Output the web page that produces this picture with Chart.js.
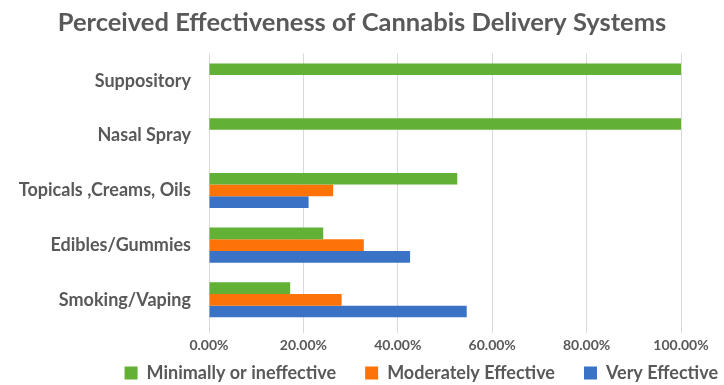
<!DOCTYPE html>
<html>
<head>
<meta charset="utf-8">
<script src="https://cdn.jsdelivr.net/npm/chart.js@4/dist/chart.umd.min.js"></script>
<style>
html,body{margin:0;padding:0;background:#fff;}
#wrap{width:724px;height:385px;position:relative;}
</style>
</head>
<body>
<div id="wrap"><canvas id="c"></canvas></div>
<script>
const categories = ['Suppository', 'Nasal Spray', 'Topicals ,Creams, Oils', 'Edibles/Gummies', 'Smoking/Vaping'];
const seriesNames = ['Minimally or ineffective', 'Moderately Effective', 'Very Effective'];
const minimallyIneffective = [100, 100, 52.6, 24.2, 17.2];
const moderatelyEffective = [0, 0, 26.3, 32.8, 28.1];
const veryEffective = [0, 0, 21.1, 42.6, 54.6];
const xTicks = [0, 20, 40, 60, 80, 100];

const FONT = 'Lato, "Open Sans", sans-serif';
const TXT = '#595959';

const legendTweak = {
  id: 'legendTweak',
  afterInit(chart) {
    const lg = chart.legend;
    if (!lg) return;
    const fit = lg.fit;
    lg.fit = function () { fit.call(this); this.height = 27; };
    const draw = lg.draw;
    lg.draw = function () {
      const t = this.top, l = this.left, r = this.right;
      this.top = t - 23; this.left = l + 23; this.right = r + 23;
      draw.apply(this, arguments);
      this.top = t; this.left = l; this.right = r;
    };
  }
};

new Chart(document.getElementById('c'), {
  type: 'bar',
  data: {
    labels: categories,
    datasets: [
      { label: seriesNames[0], data: minimallyIneffective, backgroundColor: '#62b036' },
      { label: seriesNames[1], data: moderatelyEffective, backgroundColor: '#fd7307' },
      { label: seriesNames[2], data: veryEffective, backgroundColor: '#3a73c6' }
    ]
  },
  options: {
    indexAxis: 'y',
    responsive: true,
    maintainAspectRatio: false,
    animation: false,
    layout: { padding: { left: 0, right: 0, top: 0, bottom: 0 } },
    datasets: { bar: { categoryPercentage: 0.64, barPercentage: 1.0 } },
    plugins: {
      title: {
        display: true,
        text: 'Perceived Effectiveness of Cannabis Delivery Systems',
        color: TXT,
        font: { family: FONT, size: 25.5, weight: 'bold' },
        padding: { top: 7, bottom: 16 }
      },
      legend: {
        position: 'bottom',
        align: 'end',
        labels: {
          color: TXT,
          font: { family: FONT, size: 18, weight: 'bold' },
          boxWidth: 13, boxHeight: 13,
          padding: 29
        }
      },
      tooltip: { enabled: false }
    },
    scales: {
      x: {
        min: 0, max: 100,
        afterBuildTicks(scale) { scale.ticks = xTicks.map(v => ({ value: v })); },
        afterFit(scale) { scale.paddingRight = 43; },
        grid: { color: '#d9d9d9', lineWidth: 1, tickLength: 6, drawTicks: true },
        border: { display: false },
        ticks: {
          color: TXT,
          font: { family: FONT, size: 14, weight: 'bold' },
          padding: 4,
          maxRotation: 0,
          callback: v => v.toFixed(2) + '%'
        }
      },
      y: {
        afterFit(scale) { scale.width = 209; },
        grid: { display: false },
        border: { display: false },
        ticks: {
          color: TXT,
          font: { family: FONT, size: 18, weight: 'bold' },
          padding: 10
        }
      }
    }
  },
  plugins: [legendTweak]
});
</script>
</body>
</html>
